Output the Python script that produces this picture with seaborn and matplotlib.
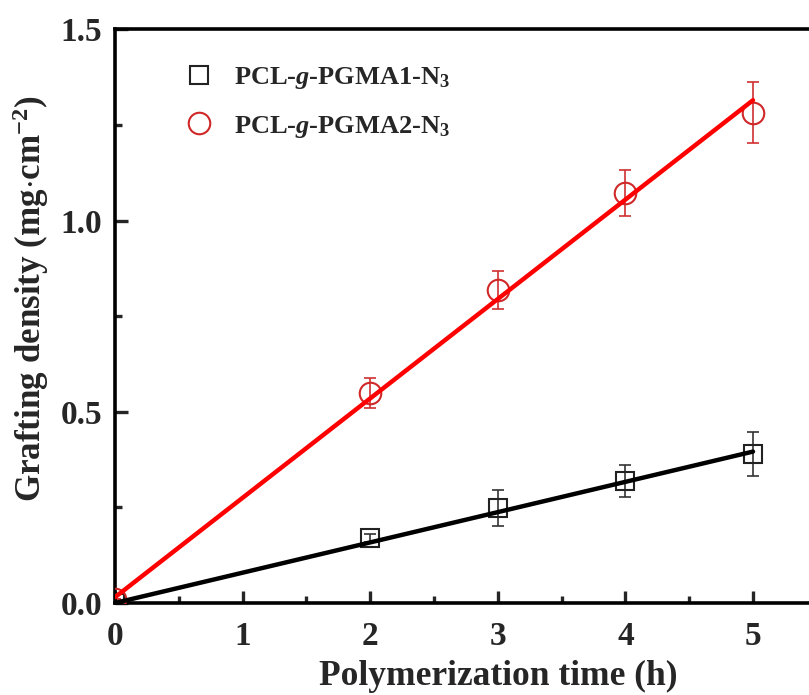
import matplotlib
matplotlib.use("Agg")
import matplotlib.pyplot as plt
import seaborn as sns
import numpy as np
import pandas as pd
from matplotlib.lines import Line2D
from matplotlib.ticker import MultipleLocator, FixedLocator

# ---- data ----
time_h = [0, 2, 3, 4, 5]
pgma1 = [0.0, 0.170, 0.249, 0.320, 0.390]
pgma1_err = [0.0, 0.010, 0.047, 0.042, 0.057]
pgma2 = [0.010, 0.549, 0.819, 1.072, 1.282]
pgma2_err = [0.0, 0.040, 0.050, 0.060, 0.080]
fit_x = [0, 5]
fit_pgma1 = [0.0, 0.396]
fit_pgma2 = [0.015, 1.315]
x_ticks = [0, 1, 2, 3, 4, 5]
labels = [r'PCL-$\mathit{g}$-PGMA1-N$_{3}$', r'PCL-$\mathit{g}$-PGMA2-N$_{3}$']

sns.set_theme(style="ticks")
plt.rcParams['font.family'] = ['Liberation Serif', 'DejaVu Serif']
plt.rcParams['font.weight'] = 'bold'
plt.rcParams['mathtext.fontset'] = 'custom'
plt.rcParams['mathtext.rm'] = 'Liberation Serif:bold'
plt.rcParams['mathtext.bf'] = 'Liberation Serif:bold'
plt.rcParams['mathtext.it'] = 'Liberation Serif:italic:bold'

fig = plt.figure(figsize=(8.09, 6.95), dpi=100)
ax = fig.add_axes([0.1421, 0.1324, 0.9464, 0.8252])

df_fit = pd.DataFrame({'x': fit_x + fit_x,
                       'y': fit_pgma1 + fit_pgma2,
                       's': ['a', 'a', 'b', 'b']})

ax.errorbar(time_h, pgma1, yerr=pgma1_err, fmt='none', ecolor='#333333',
            elinewidth=1.2, capsize=4, capthick=1.2, zorder=2)
ax.errorbar(time_h, pgma2, yerr=pgma2_err, fmt='none', ecolor='#d03030',
            elinewidth=1.2, capsize=4, capthick=1.2, zorder=2)
ax.plot(time_h, pgma1, ls='none', marker='s', ms=13, mfc='none', mec='#222222',
        mew=1.5, zorder=3)
ax.plot(time_h, pgma2, ls='none', marker='o', ms=15.5, mfc='none', mec='#d02828',
        mew=1.5, zorder=3)

sns.lineplot(data=df_fit, x='x', y='y', hue='s', palette={'a': 'black', 'b': '#ff0000'},
             linewidth=3.2, legend=False, ax=ax, zorder=4)

ax.set_xlim(0, 6)
ax.set_ylim(0, 1.5)
ax.xaxis.set_major_locator(FixedLocator(x_ticks))
ax.xaxis.set_minor_locator(MultipleLocator(0.5))
ax.yaxis.set_major_locator(MultipleLocator(0.5))
ax.yaxis.set_minor_locator(MultipleLocator(0.25))
ax.tick_params(which='major', direction='in', length=9, width=2.4, labelsize=24)
ax.tick_params(axis='x', which='major', pad=13)
ax.tick_params(axis='y', which='major', pad=9)
ax.tick_params(which='minor', direction='in', length=5, width=2.4)
for sp in ax.spines.values():
    sp.set_linewidth(2.6)
    sp.set_color('black')
for lab in ax.get_xticklabels() + ax.get_yticklabels():
    lab.set_fontweight('bold')

ax.set_xlabel('Polymerization time (h)', fontsize=25.5, fontweight='bold', labelpad=6)
ax.set_ylabel(r'Grafting density (mg$\cdot$cm$^{-2}$)', fontsize=25.2, fontweight='bold', labelpad=8)
ax.yaxis.set_label_coords(-0.084, 0.53)

handles = [Line2D([], [], ls='none', marker='s', ms=13, mfc='none', mec='#222222', mew=1.5),
           Line2D([], [], ls='none', marker='o', ms=15.5, mfc='none', mec='#d02828', mew=1.5)]
leg = ax.legend(handles, labels, loc='upper left', bbox_to_anchor=(0.051, 0.97), frameon=False,
                fontsize=19, handletextpad=0.35, labelspacing=0.85, borderaxespad=0.3)
for t in leg.get_texts():
    t.set_fontweight('bold')

fig.savefig('out.png', dpi=100)
